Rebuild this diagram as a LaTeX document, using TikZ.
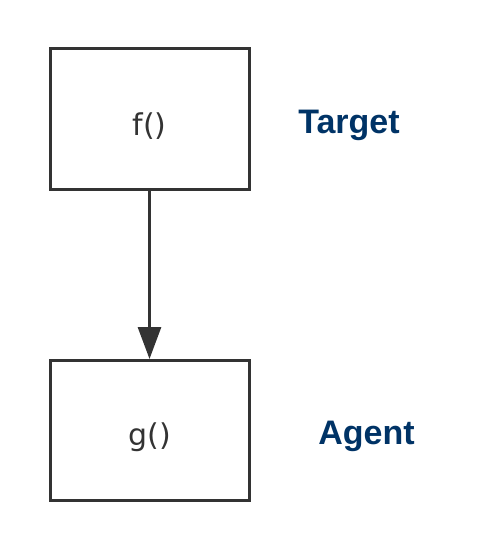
\documentclass[tikz,border=0pt]{standalone}
\usepackage{fontspec}
\setmainfont{Liberation Sans}
\newfontfamily\boxfont{DejaVu Sans}
\usetikzlibrary{positioning,arrows.meta}
\definecolor{linegray}{HTML}{333333}
\definecolor{labelblue}{HTML}{003366}

\begin{document}
\begin{tikzpicture}[
    x=1pt, y=-1pt,
    box/.style={rectangle, draw=linegray, line width=3pt, minimum width=199pt, minimum height=140pt, align=center, text=linegray, font=\boxfont\fontsize{30}{34}\selectfont},
    role/.style={text=labelblue, font=\bfseries\fontsize{34}{38}\selectfont},
    arrow/.style={-{Triangle[length=32pt, width=23pt]}, draw=linegray, fill=linegray, line width=3pt}
]
\useasboundingbox (0,0) rectangle (489,551);

% Nodes
\node[box] (f) at (149.5,119) {\raisebox{-7pt}[\height][\depth]{f()}};
\node[box] (g) at (149.5,430.5) {\raisebox{-7pt}[\height][\depth]{g()}};
\node[role] (target) at (349,125) {Target};
\node[role] (agent) at (366.5,436) {Agent};

% Arrows
\draw[arrow] (f) -- (g);

\end{tikzpicture}
\end{document}
